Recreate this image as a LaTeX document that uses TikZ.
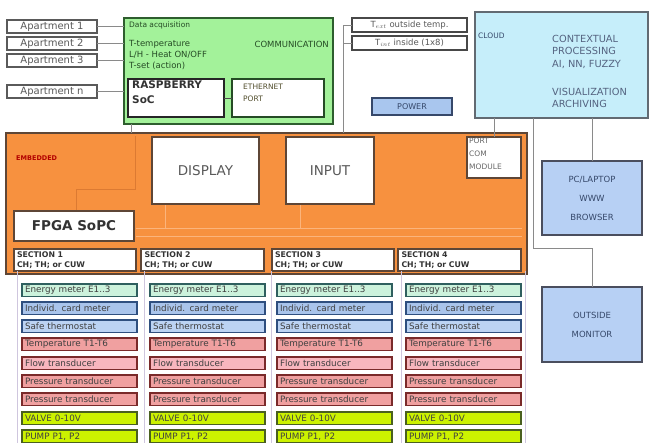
\documentclass[tikz,border=0pt]{standalone}
\usepackage{fontspec}
\setmainfont{DejaVu Sans}
\usetikzlibrary{calc}
\definecolor{org}{HTML}{F7913F}
\definecolor{orgdk}{HTML}{DC7A32}
\definecolor{orglt}{HTML}{FBB47C}
\definecolor{brn}{HTML}{5E4636}
\definecolor{grn}{HTML}{A3F29A}
\definecolor{grndk}{HTML}{2E5E2E}
\definecolor{cld}{HTML}{C6EEFA}
\definecolor{cldbd}{HTML}{626A72}
\definecolor{pwr}{HTML}{A9C6EE}
\definecolor{pwrbd}{HTML}{36486A}
\definecolor{pcf}{HTML}{B7D0F4}
\definecolor{pcbd}{HTML}{4A4E5E}
\definecolor{aptgray}{HTML}{5A5A5A}
\definecolor{linegray}{HTML}{8A8A8A}
\definecolor{lav}{HTML}{CFC6DE}
\definecolor{rgf}{HTML}{CCF2DC}\definecolor{rgd}{HTML}{2F5F5F}
\definecolor{rbf}{HTML}{A9C4EB}\definecolor{rbd}{HTML}{2F4F7F}
\definecolor{rcf}{HTML}{BCD3F3}
\definecolor{rrf}{HTML}{F0A0A0}\definecolor{rrd}{HTML}{7A2A2A}
\definecolor{rpf}{HTML}{F8B6BE}
\definecolor{rlf}{HTML}{CCF200}\definecolor{rld}{HTML}{4A6020}
\newcommand\fs[2]{\fontsize{#1}{#2}\selectfont}
\newcommand\mkbox[7]{\node[bx,#6,minimum width={#4pt-#2pt},minimum height={#5pt-#3pt}] (#1) at (#2,#3) {#7};}
\begin{document}
\begin{tikzpicture}[x=1pt,y=-1pt,
  bx/.style={draw,rectangle,inner sep=0pt,outer sep=0pt,anchor=north west},
  apt/.style={draw=aptgray,line width=1.4pt,fill=white,text=aptgray,font=\fs{10}{11}},
  conn/.style={draw=linegray,line width=0.7pt},
  lt/.style={draw=lav,line width=0.9pt},
  gtxt/.style={anchor=west,inner sep=0pt,text=grndk!80!black,font=\fs{8.5}{9}},
  tbox/.style={draw=aptgray!80!black,line width=1.4pt,fill=white,text=aptgray,font=\fs{8.5}{9}},
  sect/.style={draw=brn,line width=1.4pt,fill=white,text width=116pt,inner xsep=3pt,align=left,font=\bfseries\fs{7.8}{10.5},text=black!80},
  rowbox/.style={bx,line width=1.2pt,minimum height=12.5pt,text width=109pt,inner xsep=3pt,align=left,font=\fs{8.8}{9},text=black!75},
  rg/.style={rowbox,draw=rgd,fill=rgf},
  rb/.style={rowbox,draw=rbd,fill=rbf},
  rc/.style={rowbox,draw=rbd,fill=rcf},
  rr/.style={rowbox,draw=rrd,fill=rrf},
  rp/.style={rowbox,draw=rrd,fill=rpf},
  rl/.style={rowbox,draw=rld,fill=rlf},
  pcs/.style={draw=pcbd,line width=1.8pt,fill=pcf,align=center,text=pwrbd,font=\fs{8.5}{19}}
]
\useasboundingbox[fill=white] (0,0) rectangle (650,445);

% ---------- apartments ----------
\mkbox{a1}{7}{20}{97}{33}{apt}{Apartment 1}
\mkbox{a2}{7}{37}{97}{50}{apt}{Apartment 2}
\mkbox{a3}{7}{54}{97}{67}{apt}{Apartment 3}
\mkbox{an}{7}{85}{97}{98}{apt}{Apartment n}

% ---------- green acquisition box ----------
\mkbox{green}{124}{18}{333}{124}{draw=grndk,fill=grn,line width=1.6pt}{}
\node[gtxt,font=\fs{7.5}{8}] (gda) at (129,25) {Data acquisition};
\node[gtxt] (gt) at (129,44) {T-temperature};
\node[gtxt,anchor=east] (gcom) at (329,44) {COMMUNICATION};
\node[gtxt] (glh) at (129,55) {L/H - Heat ON/OFF};
\node[gtxt] (gts) at (129,66) {T-set (action)};
\mkbox{rasp}{128}{79}{224}{117}{draw=black!85,fill=white,line width=1.6pt}{}
\node[anchor=north west,align=left,inner sep=0pt,font=\bfseries\fs{10.5}{15},text=black!80] (rtx) at (132,81) {RASPBERRY\\SoC};
\mkbox{eth}{232}{79}{324}{117}{draw=grndk!80!black,fill=white,line width=1.6pt}{}
\node[anchor=north west,align=left,inner sep=0pt,font=\fs{7.5}{12},text=black!55!olive] (etx) at (243,84) {ETHERNET\\PORT};

% ---------- sensors, power, cloud ----------
\mkbox{text}{352}{18}{467}{32}{tbox}{T$_{ext}$ outside temp.}
\mkbox{tint}{352}{36}{467}{50}{tbox}{T$_{int}$ inside (1x8)}
\mkbox{power}{372}{98}{452}{115}{draw=pwrbd,fill=pwr,line width=1.6pt,font=\fs{8}{9},text=pwrbd}{POWER}
\mkbox{cloud}{475}{12}{648}{118}{draw=cldbd,fill=cld,line width=1.3pt}{}
\node[anchor=west,inner sep=0pt,font=\fs{7.5}{8},text=pwrbd] (cl) at (478,36) {CLOUD};
\node[anchor=north west,align=left,inner sep=0pt,font=\fs{9.8}{12.5},text=pwrbd!85] (ctx) at (552,35) {CONTEXTUAL\\PROCESSING\\AI, NN, FUZZY};
\node[anchor=north west,align=left,inner sep=0pt,font=\fs{9.8}{12.5},text=pwrbd!85] (vis) at (552,88) {VISUALIZATION\\ARCHIVING};

% ---------- embedded (orange) ----------
\mkbox{emb}{6}{133}{527}{274}{draw=brn,fill=org,line width=2.6pt}{}
\draw[orgdk,line width=1pt] (135,136) -- (135,189) -- (76,189) -- (76,210);
\draw[orglt,line width=1pt] (136,228) -- (522,228) (136,236) -- (522,236);
\draw[orglt,line width=1pt] (165,204) -- (165,228) (300,204) -- (300,228);
\node[anchor=west,inner sep=0pt,font=\bfseries\fs{6.5}{7},text=red!70!black] (embl) at (16,158) {EMBEDDED};
\mkbox{disp}{152}{137}{259}{204}{draw=brn,fill=white,line width=2pt,font=\fs{13.5}{14},text=black!65}{DISPLAY}
\mkbox{inp}{286}{137}{374}{204}{draw=brn,fill=white,line width=2pt,font=\fs{13.5}{14},text=black!65}{INPUT}
\mkbox{port}{467}{137}{521}{178}{draw=brn,fill=white,line width=1.6pt}{}
\node[anchor=north west,align=left,inner sep=0pt,font=\fs{7.5}{13},text=black!60] (ptx) at (469,138) {PORT\\COM\\MODULE};
\mkbox{fpga}{14}{211}{134}{241}{draw=brn,fill=white,line width=1.8pt,font=\bfseries\fs{13.5}{14},text=black!80}{FPGA SoPC}
\mkbox{s1}{14}{249}{136}{271}{sect}{SECTION 1\\CH; TH; or CUW}
\mkbox{s2}{141}{249}{264}{271}{sect}{SECTION 2\\CH; TH; or CUW}
\mkbox{s3}{272}{249}{393}{271}{sect}{SECTION 3\\CH; TH; or CUW}
\mkbox{s4}{398}{249}{521}{271}{sect}{SECTION 4\\CH; TH; or CUW}

% ---------- section columns ----------
\draw[lt] ([xshift=3pt]s1.south west) -- ++(0,172);
\draw[lt] ([xshift=3pt]s2.south west) -- ++(0,172);
\draw[lt] ([xshift=-1pt]s3.south west) -- ++(0,172);
\draw[lt] ([xshift=3pt]s4.south west) -- ++(0,172);
\draw[lt] ([xshift=4pt]s4.south east) -- ++(0,172);
\foreach \cx [count=\ci] in {22,150,277,406} {
  \foreach \ry/\st/\tx [count=\ri] in {284/rg/Energy meter E1..3, 302/rb/Individ. card meter,
      320/rc/Safe thermostat, 338/rr/Temperature T1-T6, 357/rp/Flow transducer,
      375/rr/Pressure transducer, 393/rr/Pressure transducer, 412/rl/VALVE 0-10V, 430/rl/{PUMP P1, P2}} {
    \node[\st] (r\ci-\ri) at (\cx,\ry) {\tx};
  }
}

% ---------- client boxes ----------
\mkbox{pc}{542}{161}{642}{235}{pcs}{PC/LAPTOP\\WWW\\BROWSER}
\mkbox{mon}{542}{287}{642}{362}{pcs}{OUTSIDE\\MONITOR}

% ---------- connectors ----------
\foreach \a in {a1,a2,a3,an} \draw[conn] (\a.east) -- (\a.east -| green.west);
\draw[conn,draw=black!70,line width=1pt] (rasp.east) -- (eth.west);
\draw[conn] ($(eth.north east)+(0,-6)$) -- ($(eth.north east)+(0,-6)$ -| cloud.west);
\coordinate (gj) at (131,133);
\draw[conn] (green.south -| gj) -- (gj);
\coordinate (tj) at (343,133);
\draw[conn] (text.west) -| (tj);
\draw[conn] (tint.west) -- (tint.west -| tj);
\draw[conn] (cloud.south -| port.north) -- (port.north);
\draw[conn] (cloud.south -| pc.north) -- (pc.north);
\coordinate (mj) at (533,248);
\draw[conn] (cloud.south -| mj) -- (mj) -| (mon.north);
\end{tikzpicture}
\end{document}
